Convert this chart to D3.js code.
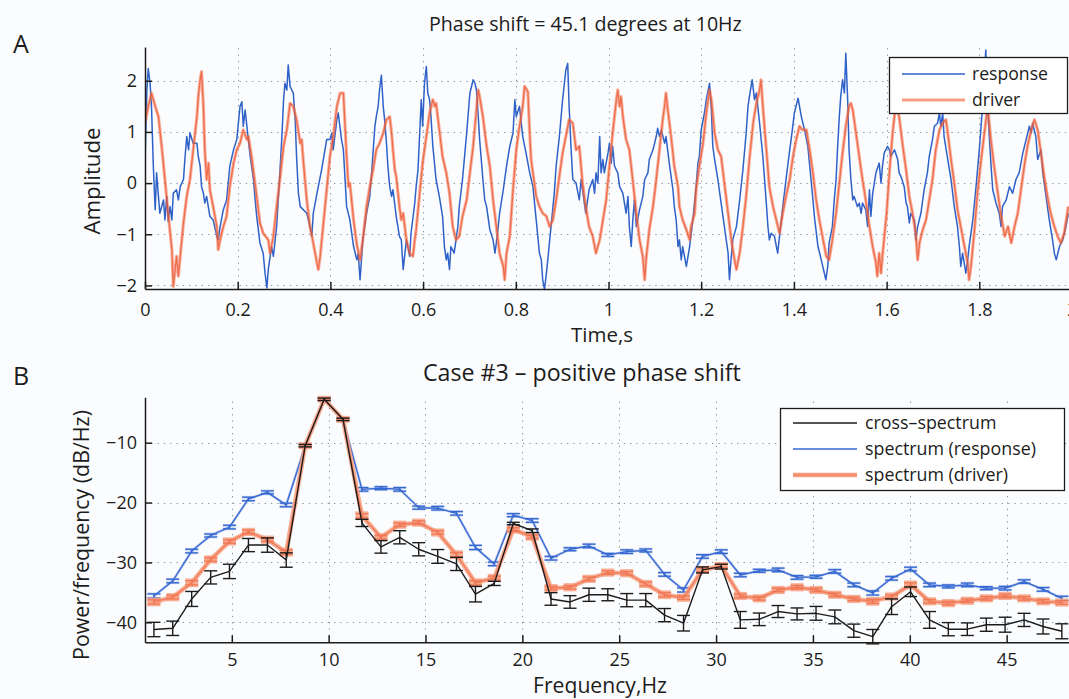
<!DOCTYPE html>
<html>
<head>
<meta charset="utf-8">
<script src="https://cdn.jsdelivr.net/npm/d3@7/dist/d3.min.js"></script>
<style>
body { margin: 0; background: #fbfcfe; }
svg { display: block; font-family: "Open Sans", "DejaVu Sans", sans-serif; }
</style>
</head>
<body>
<svg id="fig" width="1069" height="699"></svg>
<script>
// panel A : [time (s), amplitude]
var responsePts = [
 [0.000,0.39],[0.004,1.82],[0.007,2.24],[0.011,1.95],[0.014,1.50],[0.018,0.33],[0.022,-0.52],[0.025,0.20],[0.029,-0.26],[0.032,-0.59],
 [0.040,-0.33],[0.043,-0.72],[0.047,-0.26],[0.050,-0.75],[0.054,-0.46],[0.058,-0.72],[0.061,-0.20],[0.068,-0.13],[0.072,-0.33],[0.076,-0.07],
 [0.083,0.07],[0.086,0.46],[0.090,0.91],[0.094,0.65],[0.097,0.98],[0.104,0.78],[0.112,0.78],[0.115,0.52],[0.119,0.33],[0.122,-0.07],
 [0.126,-0.20],[0.129,-0.39],[0.133,-0.26],[0.140,-0.65],[0.147,-0.72],[0.155,-1.04],[0.158,-1.11],[0.162,-0.85],[0.169,-0.52],[0.176,-0.33],
 [0.183,0.33],[0.191,0.65],[0.198,0.85],[0.205,1.50],[0.209,1.59],[0.212,1.11],[0.216,1.43],[0.223,0.85],[0.227,0.52],[0.234,0.07],
 [0.237,-0.26],[0.241,-0.65],[0.248,-1.17],[0.255,-1.37],[0.259,-1.76],[0.263,-2.05],[0.266,-1.69],[0.273,-1.24],[0.277,-1.43],[0.284,-0.85],
 [0.291,0.20],[0.295,0.85],[0.299,1.63],[0.302,1.95],[0.306,1.82],[0.309,2.31],[0.313,1.89],[0.320,1.76],[0.324,1.24],[0.327,0.52],
 [0.331,-0.20],[0.335,-0.46],[0.349,-0.59],[0.356,-0.85],[0.360,-1.04],[0.363,-0.59],[0.371,-0.20],[0.381,0.26],[0.392,0.85],[0.399,0.85],
 [0.403,0.98],[0.406,0.65],[0.414,1.24],[0.417,1.37],[0.424,0.85],[0.428,0.65],[0.435,-0.46],[0.442,-0.72],[0.450,-1.24],[0.457,-1.50],
 [0.460,-1.37],[0.464,-1.89],[0.470,-1.11],[0.478,-0.59],[0.485,-0.26],[0.489,0.20],[0.492,0.59],[0.496,1.11],[0.499,1.30],[0.503,1.50],
 [0.506,1.82],[0.510,2.11],[0.514,1.50],[0.517,1.24],[0.521,0.78],[0.524,0.33],[0.528,-0.07],[0.532,-0.26],[0.535,-0.13],[0.542,-0.65],
 [0.549,-1.04],[0.553,-1.11],[0.557,-1.69],[0.564,-1.11],[0.571,-1.43],[0.574,-0.98],[0.582,-0.39],[0.585,-0.07],[0.589,0.26],[0.592,0.85],
 [0.596,1.63],[0.599,1.11],[0.603,1.95],[0.607,2.28],[0.610,1.76],[0.614,1.63],[0.617,1.30],[0.621,0.72],[0.628,0.07],[0.635,-0.26],
 [0.642,-0.65],[0.646,-1.24],[0.650,-1.50],[0.653,-1.37],[0.657,-1.69],[0.660,-1.24],[0.667,-1.37],[0.675,-0.85],[0.678,-0.46],[0.685,0.07],
 [0.694,0.98],[0.701,1.76],[0.708,2.02],[0.712,1.95],[0.715,1.82],[0.719,1.30],[0.722,0.85],[0.729,0.07],[0.733,-0.33],[0.737,-0.46],
 [0.744,-0.91],[0.751,-1.11],[0.755,-1.37],[0.758,-1.17],[0.762,-0.85],[0.765,-0.59],[0.773,-0.13],[0.780,0.33],[0.787,0.72],[0.794,0.98],
 [0.798,1.63],[0.801,1.30],[0.808,1.50],[0.815,0.91],[0.822,0.59],[0.830,0.20],[0.837,-0.07],[0.844,-0.72],[0.851,-1.37],[0.855,-1.50],
 [0.858,-1.89],[0.862,-2.08],[0.866,-1.76],[0.869,-1.50],[0.876,-0.85],[0.883,-0.20],[0.887,0.33],[0.894,0.91],[0.901,1.63],[0.908,2.21],
 [0.912,2.34],[0.915,1.50],[0.919,0.72],[0.923,0.07],[0.930,0.00],[0.937,-0.33],[0.941,0.07],[0.951,-0.59],[0.958,-0.13],[0.966,0.07],
 [0.970,-0.20],[0.973,0.20],[0.977,0.00],[0.981,0.91],[0.984,0.20],[0.988,0.46],[0.991,0.20],[0.999,0.59],[1.002,0.78],[1.006,0.39],
 [1.009,0.72],[1.013,0.33],[1.020,0.20],[1.024,-0.07],[1.031,-0.20],[1.038,-0.59],[1.042,-0.26],[1.045,-0.85],[1.049,-1.24],[1.053,-0.65],
 [1.056,-0.33],[1.060,-0.85],[1.067,-0.52],[1.074,-0.26],[1.078,0.07],[1.085,0.20],[1.088,0.46],[1.096,0.65],[1.103,0.91],[1.106,1.07],
 [1.110,0.91],[1.114,1.04],[1.121,0.78],[1.124,0.91],[1.132,0.33],[1.139,-0.13],[1.142,-0.46],[1.146,-0.72],[1.150,-1.24],[1.153,-1.11],
 [1.157,-1.50],[1.160,-1.24],[1.168,-1.63],[1.175,-1.24],[1.182,-0.72],[1.189,-0.07],[1.193,0.39],[1.196,0.52],[1.200,1.04],[1.207,1.37],
 [1.211,1.63],[1.218,1.95],[1.222,1.43],[1.225,0.72],[1.229,0.46],[1.236,0.07],[1.243,-0.39],[1.247,-0.65],[1.254,-1.11],[1.258,-1.37],
 [1.261,-1.89],[1.265,-1.43],[1.268,-1.11],[1.276,-0.85],[1.283,-0.33],[1.290,0.26],[1.297,0.98],[1.301,1.50],[1.304,1.69],[1.310,2.02],
 [1.315,1.63],[1.319,1.76],[1.326,1.17],[1.333,0.52],[1.340,-0.33],[1.344,-0.85],[1.347,-1.11],[1.351,-0.98],[1.358,-1.04],[1.365,-1.37],
 [1.369,-1.04],[1.376,-0.46],[1.383,0.07],[1.391,0.65],[1.394,0.85],[1.401,1.37],[1.409,1.66],[1.416,1.30],[1.423,1.04],[1.430,0.72],
 [1.437,0.07],[1.445,-0.72],[1.452,-1.24],[1.459,-1.50],[1.469,-1.89],[1.473,-1.63],[1.476,-1.17],[1.483,-0.85],[1.487,-0.33],[1.491,0.07],
 [1.494,0.65],[1.498,1.30],[1.501,1.69],[1.505,2.02],[1.509,1.76],[1.512,2.54],[1.516,1.63],[1.519,0.65],[1.523,0.07],[1.527,-0.33],
 [1.530,-0.26],[1.537,-0.46],[1.541,-0.39],[1.545,-0.59],[1.548,-0.39],[1.555,-0.52],[1.559,-0.85],[1.563,-0.13],[1.566,-0.65],[1.570,-0.20],
 [1.577,0.20],[1.584,0.39],[1.588,0.00],[1.591,0.33],[1.595,0.59],[1.602,0.72],[1.606,0.65],[1.609,0.52],[1.617,0.65],[1.624,0.46],
 [1.627,0.20],[1.631,0.13],[1.638,-0.07],[1.642,-0.39],[1.645,-0.46],[1.649,-0.78],[1.652,-0.59],[1.660,-0.72],[1.663,-1.11],[1.667,-0.85],
 [1.674,-0.59],[1.681,-0.13],[1.688,0.20],[1.692,0.52],[1.699,0.85],[1.703,1.11],[1.710,1.17],[1.714,1.37],[1.717,1.11],[1.721,1.37],
 [1.724,0.91],[1.732,0.46],[1.739,0.07],[1.746,-0.46],[1.753,-0.85],[1.757,-1.24],[1.760,-1.63],[1.764,-1.37],[1.771,-1.76],[1.775,-1.50],
 [1.778,-1.24],[1.786,-0.72],[1.793,-0.07],[1.800,0.65],[1.807,1.50],[1.811,2.15],[1.814,2.60],[1.818,1.50],[1.822,0.85],[1.825,0.39],
 [1.829,-0.13],[1.836,-0.39],[1.843,-0.59],[1.847,-0.85],[1.850,-0.46],[1.858,-0.33],[1.865,-0.07],[1.872,-0.20],[1.879,0.07],[1.886,0.20],
 [1.894,0.59],[1.901,0.85],[1.908,1.11],[1.912,0.98],[1.915,1.17],[1.922,0.91],[1.926,0.46],[1.933,0.65],[1.937,0.20],[1.944,-0.26],
 [1.951,-0.72],[1.958,-1.11],[1.962,-1.37],[1.966,-1.50],[1.973,-1.24],[1.980,-1.11],[1.987,-0.85],[1.992,-0.59]
];
var driverPts = [
 [0.000,1.17],[0.007,1.50],[0.014,1.76],[0.022,1.50],[0.029,1.30],[0.036,0.72],[0.043,0.07],[0.050,-0.59],[0.058,-1.30],[0.061,-2.02],
 [0.068,-1.43],[0.072,-1.82],[0.076,-1.43],[0.083,-0.78],[0.090,-0.26],[0.097,0.07],[0.104,0.65],[0.112,1.30],[0.115,1.69],[0.119,2.02],
 [0.122,2.18],[0.126,1.50],[0.129,0.65],[0.133,0.07],[0.137,0.39],[0.140,-0.13],[0.147,-0.46],[0.155,-0.85],[0.158,-1.30],[0.162,-1.11],
 [0.169,-0.85],[0.176,-0.65],[0.183,-0.07],[0.191,0.39],[0.198,0.65],[0.205,0.78],[0.212,1.04],[0.220,0.85],[0.223,0.91],[0.230,0.52],
 [0.241,-0.26],[0.248,-0.78],[0.255,-0.98],[0.266,-1.11],[0.270,-1.37],[0.277,-1.04],[0.284,-0.46],[0.291,0.07],[0.299,0.72],[0.306,1.04],
 [0.313,1.56],[0.320,1.50],[0.327,1.24],[0.335,0.78],[0.338,0.85],[0.342,0.39],[0.349,-0.33],[0.356,-0.85],[0.363,-1.17],[0.371,-1.56],
 [0.374,-1.69],[0.378,-1.43],[0.385,-0.78],[0.392,-0.13],[0.399,0.52],[0.406,0.91],[0.414,1.50],[0.421,1.76],[0.428,1.76],[0.435,0.52],
 [0.439,-0.07],[0.442,0.00],[0.450,-0.72],[0.457,-1.20],[0.464,-1.50],[0.470,-1.10],[0.478,-0.46],[0.485,-0.07],[0.492,0.26],[0.499,0.65],
 [0.506,0.78],[0.514,0.98],[0.521,1.24],[0.528,1.30],[0.532,0.98],[0.535,0.65],[0.539,0.26],[0.542,0.13],[0.549,-0.46],[0.553,-0.72],
 [0.557,-0.59],[0.564,-1.11],[0.571,-1.37],[0.578,-1.43],[0.582,-1.11],[0.585,-0.91],[0.592,-0.26],[0.599,0.39],[0.607,0.91],[0.614,1.37],
 [0.621,1.63],[0.625,1.50],[0.628,1.56],[0.635,1.04],[0.642,0.52],[0.650,0.20],[0.657,-0.20],[0.664,-0.85],[0.671,-1.11],[0.678,-1.04],
 [0.685,-0.65],[0.694,-0.33],[0.701,0.20],[0.708,0.72],[0.715,1.43],[0.719,1.82],[0.722,1.69],[0.729,1.30],[0.737,0.72],[0.744,0.33],
 [0.751,-0.33],[0.758,-0.85],[0.765,-1.37],[0.773,-1.63],[0.776,-1.89],[0.780,-1.37],[0.787,-1.04],[0.794,-0.13],[0.801,0.65],[0.808,1.11],
 [0.815,1.50],[0.819,1.89],[0.826,1.79],[0.830,0.98],[0.833,0.46],[0.837,0.20],[0.844,-0.26],[0.851,-0.46],[0.858,-0.59],[0.866,-0.65],
 [0.873,-0.85],[0.880,-0.72],[0.887,-0.33],[0.894,0.13],[0.901,0.59],[0.908,0.91],[0.915,1.24],[0.923,1.17],[0.930,0.65],[0.937,0.72],
 [0.944,0.00],[0.951,-0.46],[0.958,-0.85],[0.966,-1.04],[0.973,-1.37],[0.981,-1.11],[0.988,-0.72],[0.995,-0.33],[1.002,0.33],[1.009,0.98],
 [1.017,1.63],[1.020,1.82],[1.024,1.50],[1.027,1.69],[1.031,1.30],[1.038,0.85],[1.045,0.65],[1.049,0.33],[1.053,0.00],[1.060,-0.59],
 [1.067,-1.11],[1.074,-1.43],[1.078,-1.89],[1.081,-1.50],[1.088,-0.91],[1.096,-0.46],[1.103,0.07],[1.110,0.65],[1.117,1.24],[1.121,1.50],
 [1.124,1.76],[1.128,1.43],[1.135,0.91],[1.142,0.33],[1.150,-0.07],[1.153,-0.46],[1.160,-0.72],[1.168,-0.91],[1.175,-1.11],[1.178,-0.85],
 [1.186,-0.59],[1.189,-0.13],[1.196,0.33],[1.204,0.78],[1.211,1.37],[1.218,1.82],[1.222,1.63],[1.229,0.98],[1.236,0.65],[1.243,0.52],
 [1.250,0.00],[1.258,-0.59],[1.265,-1.11],[1.272,-1.50],[1.276,-1.69],[1.283,-1.37],[1.290,-0.85],[1.297,-0.26],[1.304,0.46],[1.312,1.17],
 [1.319,1.56],[1.326,1.82],[1.329,2.02],[1.333,1.50],[1.340,0.72],[1.347,-0.07],[1.355,-0.46],[1.362,-0.72],[1.369,-0.98],[1.376,-0.59],
 [1.383,-0.26],[1.391,0.07],[1.398,0.52],[1.405,0.85],[1.412,1.11],[1.419,1.04],[1.427,1.04],[1.434,0.65],[1.441,0.20],[1.448,-0.33],
 [1.455,-0.72],[1.463,-1.11],[1.470,-1.43],[1.476,-1.50],[1.483,-1.11],[1.491,-0.59],[1.498,0.00],[1.505,0.59],[1.512,1.11],[1.519,1.50],
 [1.523,1.56],[1.527,1.43],[1.534,0.98],[1.541,0.52],[1.548,0.07],[1.555,-0.33],[1.563,-0.85],[1.570,-1.24],[1.577,-1.56],[1.580,-1.82],
 [1.584,-1.37],[1.588,-1.76],[1.591,-1.43],[1.600,-0.59],[1.606,0.20],[1.613,0.98],[1.620,1.56],[1.627,1.30],[1.635,0.72],[1.642,0.26],
 [1.649,-0.26],[1.656,-0.59],[1.663,-0.98],[1.667,-1.50],[1.671,-1.17],[1.678,-0.91],[1.685,-0.72],[1.692,-0.33],[1.699,0.07],[1.706,0.65],
 [1.714,1.04],[1.721,1.17],[1.728,1.24],[1.732,0.98],[1.739,0.46],[1.746,0.00],[1.753,-0.52],[1.760,-0.85],[1.768,-1.24],[1.775,-1.56],
 [1.778,-1.89],[1.782,-1.63],[1.789,-0.98],[1.796,-0.20],[1.804,0.46],[1.811,0.98],[1.818,1.50],[1.825,0.85],[1.832,0.33],[1.840,-0.20],
 [1.847,-0.65],[1.855,-1.04],[1.862,-0.85],[1.869,-1.17],[1.876,-0.85],[1.883,-0.59],[1.890,-0.13],[1.897,0.33],[1.904,0.72],[1.912,1.04],
 [1.919,1.24],[1.926,1.04],[1.933,0.59],[1.940,0.13],[1.947,-0.26],[1.954,-0.59],[1.962,-0.85],[1.969,-1.04],[1.976,-1.17],[1.983,-0.98],
 [1.992,-0.46]
];
var timeTicks = [0, 0.2, 0.4, 0.6, 0.8, 1, 1.2, 1.4, 1.6, 1.8, 2];
var ampTicks = [-2, -1, 0, 1, 2];

// panel B : spectra per frequency bin (dB/Hz)
var freqBins = [0.98,1.95,2.93,3.91,4.88,5.86,6.84,7.81,8.79,9.77,10.74,11.72,12.70,13.67,14.65,15.63,16.60,
 17.58,18.55,19.53,20.51,21.48,22.46,23.44,24.41,25.39,26.37,27.34,28.32,29.30,30.27,31.25,32.23,33.20,
 34.18,35.16,36.13,37.11,38.09,39.06,40.04,41.02,41.99,42.97,43.95,44.92,45.90,46.88,47.85];
var crossDb = [-41.2,-41.0,-36.1,-32.5,-31.5,-27.1,-27.1,-29.6,-10.5,-2.75,-6.1,-23.4,-27.4,-25.8,-27.8,-29.0,-30.25,
 -35.3,-33.5,-23.5,-24.7,-36.1,-36.6,-35.4,-35.4,-36.3,-36.3,-38.8,-40.15,-31.25,-30.7,-39.6,-39.5,-38.2,
 -38.6,-38.5,-39.1,-41.4,-42.4,-37.4,-34.9,-39.6,-41.15,-41.15,-40.4,-40.4,-39.6,-40.7,-41.5];
var crossErr = [1.2,1.2,1.25,1.1,1.2,1.1,1.2,1.2,0.2,0.2,0.2,0.6,1.05,1.1,1.1,1.15,1.1,1.3,0.35,0.2,0.3,1.05,1.05,
 1.1,1.0,1.1,1.1,1.1,1.3,0.5,0.4,1.4,1.05,1.0,1.0,1.15,1.15,1.1,1.2,1.3,0.8,1.4,1.1,1.05,1.1,1.25,1.1,1.25,1.25];
var respDb = [-35.6,-33.1,-28.1,-25.5,-24.1,-19.4,-18.3,-20.4,-10.5,-2.75,-6.1,-17.8,-17.6,-17.8,-20.85,-20.95,-21.8,
 -27.5,-30.25,-22.1,-23.0,-29.3,-27.8,-27.25,-28.75,-28.2,-28.0,-32.0,-34.6,-29.0,-28.2,-32.1,-31.4,-31.25,
 -32.5,-32.4,-31.5,-33.75,-35.1,-32.65,-31.1,-33.75,-34.0,-33.75,-34.3,-34.3,-33.2,-34.5,-36.0];
var respErr = [0.35,0.3,0.3,0.25,0.3,0.3,0.25,0.3,0.2,0.2,0.2,0.3,0.25,0.3,0.25,0.3,0.3,0.35,0.3,0.25,0.3,0.3,0.25,
 0.3,0.25,0.3,0.25,0.3,0.35,0.3,0.3,0.3,0.25,0.3,0.3,0.25,0.3,0.3,0.35,0.3,0.3,0.3,0.25,0.3,0.25,0.3,0.3,0.3,0.35];
var drvDb = [-36.6,-35.8,-33.4,-29.5,-26.5,-24.9,-26.2,-28.3,-10.5,-2.75,-6.1,-22.2,-25.8,-23.7,-23.35,-25.0,-28.7,
 -33.4,-32.6,-24.5,-25.7,-34.3,-34.15,-32.75,-31.7,-31.8,-33.6,-35.4,-35.9,-31.25,-30.6,-35.6,-36.0,-34.6,
 -34.15,-34.6,-35.4,-36.1,-36.5,-35.7,-33.75,-36.5,-36.8,-36.4,-36.0,-35.6,-36.0,-36.5,-36.7];
var drvErr = [0.35,0.3,0.35,0.3,0.3,0.3,0.3,0.35,0.2,0.2,0.2,0.35,0.3,0.3,0.3,0.3,0.35,0.35,0.3,0.3,0.3,0.3,0.3,
 0.3,0.3,0.3,0.3,0.35,0.3,0.3,0.3,0.3,0.3,0.3,0.3,0.3,0.3,0.3,0.35,0.3,0.35,0.3,0.3,0.3,0.3,0.3,0.3,0.3,0.3];
var freqTicks = [5, 10, 15, 20, 25, 30, 35, 40, 45];
var dbTicks = [-40, -30, -20, -10];

var svg = d3.select("#fig");
var ink = "#1c1c1c";
var gridCol = "#8193a8";
var blue = "#2f62c9";

svg.append("rect").attr("width", 1069).attr("height", 699).attr("fill", "#fbfcfe");

// scales
var xA = d3.scaleLinear().domain([0, 2]).range([145, 1072]);
var yA = d3.scaleLinear().domain([-2.07, 2.66]).range([289, 47]);
var xB = d3.scaleLinear().domain([0.52, 50]).range([145, 1103.5]);
var yB = d3.scaleLinear().domain([-43.34, -2.42]).range([642.3, 397.3]);

function fitText(sel, width){
    var w = sel.node().getComputedTextLength();
    var fs = parseFloat(sel.attr("font-size"));
    sel.attr("font-size", (fs * width / w).toFixed(2));
    return fs * width / w;
}

function drawGrid(xs, ys, xt, yt){
    var g = svg.append("g").attr("stroke", gridCol).attr("stroke-width", 1)
        .attr("stroke-dasharray", "1.3,5");
    var xr = xs.range(), yr = ys.range();
    g.selectAll("line.v").data(xt.filter(function(d){ return xs(d) > xr[0] + 2; }))
        .enter().append("line")
        .attr("x1", function(d){ return Math.round(xs(d)) + 0.5; })
        .attr("x2", function(d){ return Math.round(xs(d)) + 0.5; })
        .attr("y1", yr[0]).attr("y2", yr[1]);
    g.selectAll("line.h").data(yt)
        .enter().append("line")
        .attr("y1", function(d){ return Math.round(ys(d)) + 0.5; })
        .attr("y2", function(d){ return Math.round(ys(d)) + 0.5; })
        .attr("x1", xr[0]).attr("x2", xr[1]);
}

function drawAxes(xs, ys, xt, yt, xPad){
    var fmt = d3.format("~g");
    var gx = svg.append("g").attr("transform", "translate(0," + ys.range()[0] + ")")
        .call(d3.axisBottom(xs).tickValues(xt).tickSizeInner(-7).tickSizeOuter(0)
              .tickPadding(xPad).tickFormat(fmt));
    var gy = svg.append("g").attr("transform", "translate(" + xs.range()[0] + ",0)")
        .call(d3.axisLeft(ys).tickValues(yt).tickSizeInner(-7).tickSizeOuter(0)
              .tickPadding(8).tickFormat(fmt));
    [gx, gy].forEach(function(g){
        g.attr("font-family", null).attr("font-size", 18);
        g.selectAll("path, line").attr("stroke", ink).attr("stroke-width", 1.5);
        g.selectAll("text").attr("fill", ink);
    });
}

// ---------- panel A ----------
drawGrid(xA, yA, timeTicks, ampTicks);

svg.append("clipPath").attr("id", "clipA").append("rect")
    .attr("x", 145).attr("y", 42).attr("width", 930).attr("height", 250);

var lineA = d3.line().x(function(d){ return xA(d[0]); }).y(function(d){ return yA(d[1]); });
var plotA = svg.append("g").attr("clip-path", "url(#clipA)");

plotA.append("path").datum(responsePts).attr("d", lineA)
    .attr("fill", "none").attr("stroke", blue).attr("stroke-width", 1.5)
    .attr("stroke-linejoin", "round");
plotA.append("path").datum(driverPts).attr("d", lineA)
    .attr("fill", "none").attr("stroke", "#f37550").attr("stroke-width", 3.2)
    .attr("stroke-opacity", 0.55).attr("stroke-linejoin", "round");
plotA.append("path").datum(driverPts).attr("d", lineA)
    .attr("fill", "none").attr("stroke", "#ec5029").attr("stroke-width", 1.3)
    .attr("stroke-opacity", 0.7).attr("stroke-linejoin", "round");

drawAxes(xA, yA, timeTicks, ampTicks, 14);

// legend A
var legA = svg.append("g");
legA.append("rect").attr("x", 889.5).attr("y", 57.5).attr("width", 178).attr("height", 56)
    .attr("fill", "#ffffff").attr("stroke", ink).attr("stroke-width", 1.3);
legA.append("line").attr("x1", 902).attr("x2", 965).attr("y1", 74).attr("y2", 74)
    .attr("stroke", blue).attr("stroke-width", 1.5);
legA.append("line").attr("x1", 902).attr("x2", 965).attr("y1", 100).attr("y2", 100)
    .attr("stroke", "#f37550").attr("stroke-width", 3).attr("stroke-opacity", 0.7);
var la1 = legA.append("text").attr("x", 972).attr("y", 80).attr("font-size", 18).attr("fill", ink).text("response");
var fsA = fitText(la1, 76);
legA.append("text").attr("x", 972).attr("y", 106).attr("font-size", fsA.toFixed(2)).attr("fill", ink).text("driver");

// titles and labels A
svg.append("text").attr("x", 13).attr("y", 53).attr("font-size", 25).attr("fill", ink).text("A");
var tA = svg.append("text").attr("x", 429).attr("y", 31).attr("font-size", 19).attr("fill", ink)
    .text("Phase shift = 45.1 degrees at 10Hz");
fitText(tA, 313);
var xlA = svg.append("text").attr("x", 571).attr("y", 342).attr("font-size", 19).attr("fill", ink).text("Time,s");
fitText(xlA, 62);
var ylA = svg.append("text").attr("transform", "translate(100,181) rotate(-90)")
    .attr("text-anchor", "middle").attr("font-size", 19).attr("fill", ink).text("Amplitude");
fitText(ylA, 107);

// ---------- panel B ----------
drawGrid(xB, yB, freqTicks, dbTicks);

var lineB = d3.line().x(function(d){ return xB(d.f); }).y(function(d){ return yB(d.v); });

function drawSpectrum(vals, errs, col, w, capW, opacity){
    var pts = freqBins.map(function(f, i){ return {f: f, v: vals[i], e: errs[i]}; });
    var g = svg.append("g").attr("stroke", col).attr("stroke-width", w)
        .attr("stroke-opacity", opacity).attr("fill", "none");
    g.append("path").datum(pts).attr("d", lineB).attr("stroke-linejoin", "round");
    var eb = g.selectAll("g.eb").data(pts).enter().append("g");
    eb.append("line")
        .attr("x1", function(d){ return xB(d.f); }).attr("x2", function(d){ return xB(d.f); })
        .attr("y1", function(d){ return yB(d.v - d.e); }).attr("y2", function(d){ return yB(d.v + d.e); });
    eb.append("line")
        .attr("x1", function(d){ return xB(d.f) - capW; }).attr("x2", function(d){ return xB(d.f) + capW; })
        .attr("y1", function(d){ return yB(d.v - d.e); }).attr("y2", function(d){ return yB(d.v - d.e); });
    eb.append("line")
        .attr("x1", function(d){ return xB(d.f) - capW; }).attr("x2", function(d){ return xB(d.f) + capW; })
        .attr("y1", function(d){ return yB(d.v + d.e); }).attr("y2", function(d){ return yB(d.v + d.e); });
}

drawSpectrum(respDb, respErr, "#9fb6ea", 2.6, 6.5, 0.7);
drawSpectrum(respDb, respErr, "#3568d0", 1.3, 6.5, 1);
drawSpectrum(drvDb, drvErr, "#f6a183", 4.6, 6.5, 0.85);
drawSpectrum(drvDb, drvErr, "#f07653", 1.4, 6.5, 0.9);
drawSpectrum(crossDb, crossErr, ink, 1.4, 6.5, 1);

drawAxes(xB, yB, freqTicks, dbTicks, 11);

// legend B
var legB = svg.append("g");
legB.append("rect").attr("x", 780.5).attr("y", 408.5).attr("width", 284).attr("height", 82)
    .attr("fill", "#ffffff").attr("stroke", ink).attr("stroke-width", 1.3);
legB.append("line").attr("x1", 793).attr("x2", 857).attr("y1", 423).attr("y2", 423)
    .attr("stroke", ink).attr("stroke-width", 1.4);
legB.append("line").attr("x1", 793).attr("x2", 857).attr("y1", 449).attr("y2", 449)
    .attr("stroke", "#3568d0").attr("stroke-width", 1.4);
legB.append("line").attr("x1", 793).attr("x2", 857).attr("y1", 475).attr("y2", 475)
    .attr("stroke", "#f6a183").attr("stroke-width", 4.4);
legB.append("line").attr("x1", 793).attr("x2", 857).attr("y1", 475).attr("y2", 475)
    .attr("stroke", "#f07653").attr("stroke-width", 1.2).attr("stroke-opacity", 0.8);
var lb2 = legB.append("text").attr("x", 865).attr("y", 455).attr("font-size", 18).attr("fill", ink)
    .text("spectrum (response)");
var fsB = fitText(lb2, 171);
legB.append("text").attr("x", 865).attr("y", 429).attr("font-size", fsB.toFixed(2)).attr("fill", ink)
    .text("cross\u2013spectrum");
legB.append("text").attr("x", 865).attr("y", 481).attr("font-size", fsB.toFixed(2)).attr("fill", ink)
    .text("spectrum (driver)");

// titles and labels B
svg.append("text").attr("x", 13).attr("y", 385).attr("font-size", 25).attr("fill", ink).text("B");
var tB = svg.append("text").attr("x", 423).attr("y", 381).attr("font-size", 19).attr("fill", ink)
    .text("Case #3 \u2013 positive phase shift");
fitText(tB, 318);
var xlB = svg.append("text").attr("x", 533).attr("y", 693).attr("font-size", 19).attr("fill", ink)
    .text("Frequency,Hz");
fitText(xlB, 134);
var ylB = svg.append("text").attr("transform", "translate(89,535) rotate(-90)")
    .attr("text-anchor", "middle").attr("font-size", 19).attr("fill", ink)
    .text("Power/frequency (dB/Hz)");
fitText(ylB, 250);
</script>
</body>
</html>
